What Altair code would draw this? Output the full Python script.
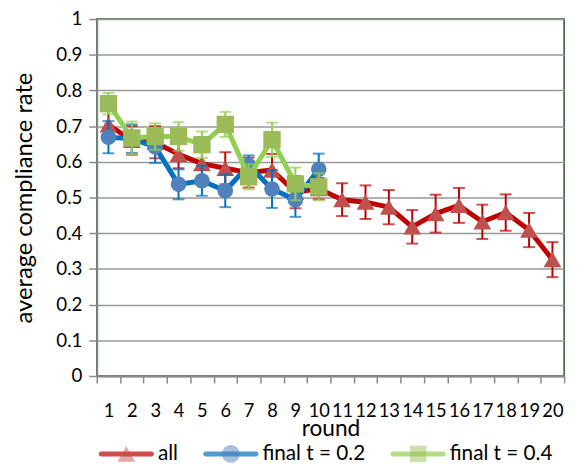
import altair as alt
import pandas as pd

# ---------------- data ----------------
rounds = list(range(1, 21))

all_mean = [0.704, 0.660, 0.655, 0.621, 0.595, 0.582, 0.570, 0.577, 0.515, 0.525,
            0.494, 0.487, 0.473, 0.418, 0.455, 0.478, 0.432, 0.458, 0.409, 0.326]
all_err = [0.040, 0.040, 0.045, 0.039, 0.040, 0.045, 0.042, 0.045, 0.045, 0.030,
           0.046, 0.047, 0.048, 0.047, 0.053, 0.049, 0.048, 0.051, 0.048, 0.049]

t02_rounds = list(range(1, 11))
t02_mean = [0.669, 0.665, 0.642, 0.537, 0.547, 0.519, 0.590, 0.524, 0.494, 0.579]
t02_err = [0.045, 0.040, 0.045, 0.042, 0.042, 0.046, 0.028, 0.053, 0.048, 0.044]

t04_rounds = list(range(1, 11))
t04_mean = [0.763, 0.667, 0.671, 0.671, 0.648, 0.705, 0.558, 0.662, 0.538, 0.530]
t04_err = [0.030, 0.046, 0.037, 0.040, 0.037, 0.035, 0.035, 0.048, 0.046, 0.038]

y_ticks = [0, 0.1, 0.2, 0.3, 0.4, 0.5, 0.6, 0.7, 0.8, 0.9, 1.0]

series_names = ["all", "final t = 0.2", "final t = 0.4"]
series_keys = ["s1", "s2", "s3"]
line_colors = ["#C00000", "#0070C0", "#92D050"]
marker_colors = ["#C0504D", "#4F81BD", "#9BBB59"]
marker_shapes = ["triangle-up", "circle", "square"]
marker_sizes = [324, 250, 310]

# legend symbols on a unit box (-1..1), scaled by sqrt(size)/2
legend_line_path = ("M-0.91,-0.09H0.91A0.09,0.09 0 0,1 0.91,0.09"
                    "H-0.91A0.09,0.09 0 0,1 -0.91,-0.09Z")
legend_paths = [
    "M0,-0.28L0.32,0.28L-0.32,0.28Z",
    "M0.32,0A0.32,0.32 0 1,1 -0.32,0A0.32,0.32 0 1,1 0.32,0Z",
    "M-0.3,-0.3H0.3V0.3H-0.3Z",
]

rows = []
for name, key, rr, mm, ee in [
    ("all", "s1", rounds, all_mean, all_err),
    ("final t = 0.2", "s2", t02_rounds, t02_mean, t02_err),
    ("final t = 0.4", "s3", t04_rounds, t04_mean, t04_err),
]:
    for r, m, e in zip(rr, mm, ee):
        rows.append({"series": name, "key": key, "round": r, "mean": m,
                     "lo": m - e, "hi": m + e})
df = pd.DataFrame(rows)

FONT = "Lato"

x_scale = alt.Scale(type="band", domain=rounds, paddingInner=0, paddingOuter=0)
x_axis = alt.Axis(title="round", labelAngle=0, tickBand="extent", labelOverlap=False,
                  labelFontSize=18.5, labelPadding=19, tickSize=7, titleFontSize=23,
                  titleY=60, titleBaseline="alphabetic", grid=False)
y_scale = alt.Scale(domain=[0, 1], nice=False)
y_axis = alt.Axis(title="average compliance rate", values=y_ticks, format=".1~f",
                  labelFontSize=19, labelPadding=7, tickSize=8, titleFontSize=24,
                  titleX=-73, titleBaseline="middle", grid=True)


def X():
    return alt.X("round:O", scale=x_scale, axis=x_axis)


def Y(field):
    return alt.Y(f"{field}:Q", scale=y_scale, axis=y_axis)


layers = []
for name, lc, mc, shp, sz in zip(series_names, line_colors, marker_colors,
                                  marker_shapes, marker_sizes):
    base = alt.Chart(df).transform_filter(alt.datum.series == name)
    layers.append(base.mark_rule(strokeWidth=2, color=lc).encode(
        x=X(), y=Y("lo"), y2="hi:Q"))
    layers.append(base.mark_tick(size=12, thickness=2, color=lc).encode(x=X(), y=Y("lo")))
    layers.append(base.mark_tick(size=12, thickness=2, color=lc).encode(x=X(), y=Y("hi")))
    layers.append(base.mark_line(strokeWidth=5, color=lc, strokeCap="round",
                                 strokeJoin="round").encode(x=X(), y=Y("mean")))
    layers.append(base.mark_point(filled=True, shape=shp, size=sz, color=mc,
                                  opacity=1, strokeWidth=0).encode(x=X(), y=Y("mean")))

LEG_X = 2
LEG_Y = 413
SYM = 3136

label_expr = " : ".join(
    f"datum.label == '{k}' ? '{n}'" for k, n in zip(series_keys[:-1], series_names[:-1])
) + f" : '{series_names[-1]}'"

common = dict(orient="none", legendX=LEG_X, legendY=LEG_Y, direction="horizontal",
              title=None, symbolSize=SYM, symbolStrokeWidth=0,
              labelFont=FONT, labelFontSize=21, columnPadding=25,
              labelOffset=4, padding=0)

line_legend = alt.Legend(symbolType=legend_line_path, labelExpr=label_expr,
                         labelOpacity=0, zindex=1, **common)
marker_legend = alt.Legend(labelColor="#000000", zindex=2, **common)

legend_lines = alt.Chart(df).transform_filter("false").mark_point(
    filled=True, strokeWidth=0).encode(
    color=alt.Color("key:N", scale=alt.Scale(domain=series_keys, range=line_colors),
                    legend=line_legend))
legend_markers = alt.Chart(df).transform_filter("false").mark_point(
    filled=True, strokeWidth=0).encode(
    fill=alt.Fill("series:N", scale=alt.Scale(domain=series_names, range=marker_colors),
                  legend=marker_legend),
    shape=alt.Shape("series:N", scale=alt.Scale(domain=series_names, range=legend_paths),
                    legend=marker_legend))

chart = alt.layer(*layers, legend_lines, legend_markers).properties(
    width=474, height=362,
    autosize=alt.AutoSizeParams(type="none"),
    padding={"left": 90, "top": 8, "right": 9, "bottom": 86},
).configure_view(
    stroke="#24562a", strokeWidth=1.5
).configure_axis(
    labelFont=FONT, titleFont=FONT, labelColor="#000000", titleColor="#000000",
    titleFontWeight="normal", domainColor="#888888", domainWidth=2,
    tickColor="#888888", tickWidth=1.5, gridColor="#999999", gridWidth=1.5,
)

chart.save("out.html", embed_options={"renderer": "svg", "actions": False})
